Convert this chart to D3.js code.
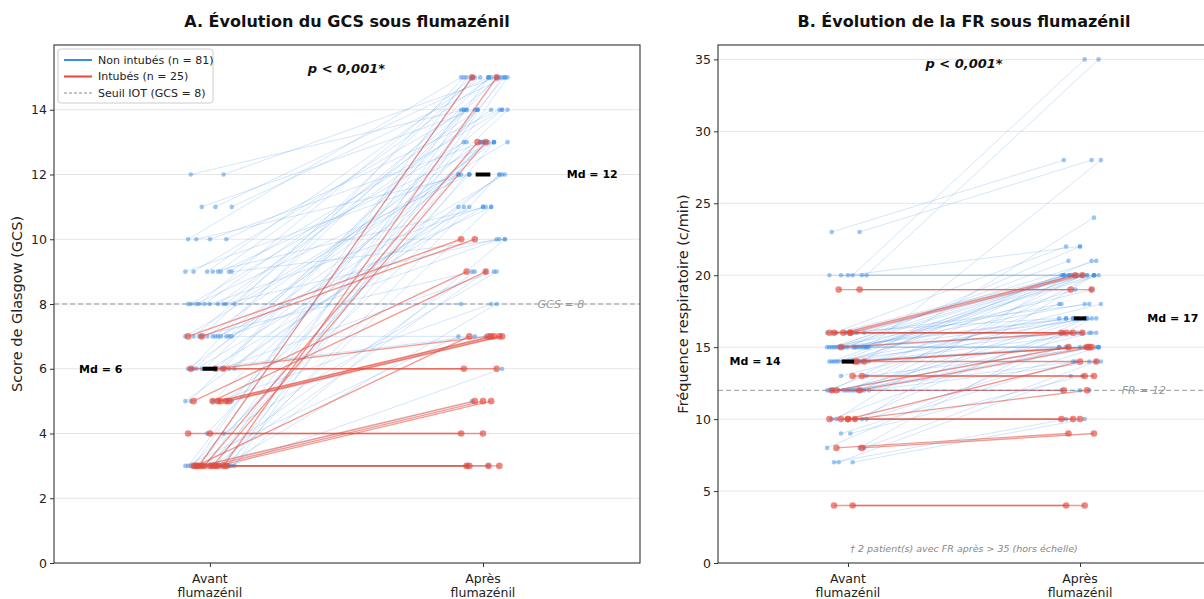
<!DOCTYPE html>
<html><head><meta charset="utf-8">
<script src="https://cdn.jsdelivr.net/npm/d3@7"></script>
<style>body{margin:0;background:#fff}svg{display:block;font-family:"DejaVu Sans",sans-serif}</style>
</head><body><svg id="c" width="1204" height="599"></svg>
<script>
// ---------- DATA ----------
const categories = ["Avant\nflumazénil", "Après\nflumazénil"];
const groupLabels = ["Non intubés (n = 81)", "Intubés (n = 25)"];
const thresholdLegend = "Seuil IOT (GCS = 8)";
const pValueA = "p < 0,001*";
const pValueB = "p < 0,001*";

// GCS pairs [avant, après] — non intubés
const gcsNonIntubes = [
 [12,15],[12,14],
 [11,15],[11,15],[11,14],
 [10,15],[10,14],[10,13],[10,12],
 [9,15],[9,15],[9,14],[9,14],[9,13],[9,12],[9,11],[9,10],
 [8,15],[8,15],[8,14],[8,14],[8,13],[8,13],[8,12],[8,11],[8,10],[8,8],
 [7,15],[7,15],[7,14],[7,14],[7,13],[7,13],[7,12],[7,12],[7,11],[7,10],[7,9],[7,7],
 [6,15],[6,15],[6,14],[6,14],[6,13],[6,13],[6,12],[6,12],[6,11],[6,11],[6,9],[6,7],
 [5,15],[5,14],[5,13],[5,12],[5,11],[5,8],
 [4,13],[4,9],
 [3,15],[3,15],[3,15],[3,15],[3,15],[3,14],[3,14],[3,13],[3,13],[3,12],[3,12],
 [3,11],[3,11],[3,10],[3,9],[3,9],[3,8],[3,7],[3,6],[3,5],[3,3],[3,3]
];
// GCS pairs — intubés
const gcsIntubes = [
 [3,15],[3,15],[3,13],[3,13],[5,9],[5,9],[7,10],[7,10],
 [5,7],[5,7],[5,7],[5,7],[6,7],[3,7],[6,6],[6,6],
 [3,5],[3,5],[3,5],[4,4],[4,4],[3,3],[3,3],[3,3],[3,3]
];
// FR pairs [avant, après] — non intubés (values > 35 drawn at 35)
const frNonIntubes = [
 [23,28],[23,28],
 [20,38],[20,40],[20,20],[20,20],[20,20],[20,22],
 [16,20],[16,20],[16,20],[16,21],[16,22],[16,18],[16,17],[16,16],
 [15,20],[15,20],[15,20],[15,20],[15,20],[15,20],[15,28],[15,21],[15,22],[15,19],
 [15,18],[15,18],[15,17],[15,17],[15,17],[15,16],[15,16],[15,15],[15,15],[15,15],
 [14,24],[14,20],[14,20],[14,20],[14,21],[14,19],[14,18],[14,17],[14,17],[14,16],[14,16],[14,15],[14,15],[14,14],
 [13,17],[13,15],
 [12,20],[12,20],[12,20],[12,18],[12,17],[12,17],[12,16],[12,16],[12,15],[12,15],[12,15],[12,14],[12,14],[12,12],[12,12],[12,12],
 [10,20],[10,20],[10,17],[10,16],[10,15],
 [9,14],[9,13],
 [8,17],[8,15],[8,14],
 [7,13],[7,10],[7,10]
];
// FR pairs — intubés
const frIntubes = [
 [19,19],[19,19],[16,20],[16,20],[16,16],[16,16],[16,16],[15,16],
 [14,15],[14,15],[14,14],[13,13],[13,13],[12,15],[12,15],[12,12],
 [10,14],[10,12],[10,10],[10,10],[10,10],[8,9],[8,9],[4,4],[4,4]
];
// horizontal jitter per patient
const jitterNI = [
 0.05,-0.07,0.02,0.08,-0.03,-0.08,0.06,0.00,-0.05,0.03,
 -0.01,0.07,-0.06,0.04,-0.09,0.01,0.08,-0.04,0.06,-0.02,
 0.03,-0.07,0.09,-0.05,0.00,0.05,-0.08,0.02,-0.03,0.07,
 -0.06,0.04,-0.01,0.08,-0.09,0.03,0.06,-0.04,0.01,-0.07,
 0.05,-0.02,0.09,-0.06,0.02,-0.08,0.07,0.00,-0.05,0.04,
 -0.03,0.08,-0.07,0.01,0.06,-0.09,0.03,-0.01,0.05,-0.04,
 0.07,-0.06,0.02,0.09,-0.02,-0.08,0.04,0.00,0.06,-0.05,
 0.03,-0.07,0.08,-0.03,0.01,0.05,-0.09,0.07,-0.04,0.02,
 -0.06];
const jitterI = [-0.04,0.05,-0.02,0.01,-0.06,0.01,-0.08,-0.03,0.03,0.04,
 0.07,0.06,0.02,-0.05,0.05,-0.07,0.00,0.03,-0.03,0.00,
 -0.08,-0.05,0.06,-0.06,0.02];

const yTicksA = [0,2,4,6,8,10,12,14];
const yTicksB = [0,5,10,15,20,25,30,35];

// ---------- STYLE ----------
const BLUE = "#3b8ee8", RED = "#e5483a";
const svg = d3.select("#c");

function drawPanel(cfg) {
  const x = d3.scaleLinear().domain(cfg.xdom).range([cfg.left, cfg.right]);
  const y = d3.scaleLinear().domain(cfg.ydom).range([cfg.bottom, cfg.top]);
  const g = svg.append("g");
  const cap = v => cfg.cap != null ? Math.min(v, cfg.cap) : v;

  // grid
  g.selectAll(".grid").data(cfg.yticks.filter(t => t > 0)).join("line")
    .attr("x1", cfg.left).attr("x2", cfg.right)
    .attr("y1", d => y(d)).attr("y2", d => y(d))
    .attr("stroke", "#e6e6e6").attr("stroke-width", 1);

  // threshold
  g.append("line").attr("x1", cfg.left).attr("x2", cfg.right)
    .attr("y1", y(cfg.thr)).attr("y2", y(cfg.thr))
    .attr("stroke", "#999").attr("stroke-width", 1).attr("stroke-dasharray", "5,3");

  const groups = [
    {data: cfg.ni, jit: jitterNI, color: BLUE, lo: 0.22, lw: 1, r: 2.3, po: 0.5},
    {data: cfg.it, jit: jitterI, color: RED, lo: 0.55, lw: 1.4, r: 3.3, po: 0.65}
  ];
  groups.forEach(gr => {
    const pts = gr.data.map((d, i) => ({a: d[0], b: cap(d[1]), j: gr.jit[i]}));
    g.append("g").selectAll("line").data(pts).join("line")
      .attr("x1", d => x(0 + d.j)).attr("x2", d => x(1 + d.j))
      .attr("y1", d => y(d.a)).attr("y2", d => y(d.b))
      .attr("stroke", gr.color).attr("stroke-opacity", gr.lo).attr("stroke-width", gr.lw);
    const dots = pts.flatMap(d => [{x: 0 + d.j, v: d.a}, {x: 1 + d.j, v: d.b}]);
    g.append("g").selectAll("circle").data(dots).join("circle")
      .attr("cx", d => x(d.x)).attr("cy", d => y(d.v)).attr("r", gr.r)
      .attr("fill", gr.color).attr("fill-opacity", gr.po);
  });

  // medians
  const all = cfg.ni.concat(cfg.it);
  const medA = d3.median(all, d => d[0]);
  const medB = d3.median(all, d => d[1]);
  [[0, medA], [1, medB]].forEach(([p, m]) => {
    g.append("line").attr("x1", x(p - 0.027)).attr("x2", x(p + 0.027))
      .attr("y1", y(m)).attr("y2", y(m)).attr("stroke", "#000").attr("stroke-width", 4);
  });
  g.append("text").attr("x", x(-0.4)).attr("y", y(medA)).attr("text-anchor", "middle")
    .attr("dy", "0.35em").attr("font-size", 11).attr("font-weight", "bold").text("Md = " + medA);
  g.append("text").attr("x", x(1.4)).attr("y", y(medB)).attr("text-anchor", "middle")
    .attr("dy", "0.35em").attr("font-size", 11).attr("font-weight", "bold").text("Md = " + medB);

  // threshold label
  g.append("text").attr("x", x(cfg.thrLabelX)).attr("y", y(cfg.thr)).attr("dy", "0.35em")
    .attr("font-size", 11).attr("font-style", "italic").attr("fill", "#999").text(cfg.thrLabel);

  // p value
  g.append("text").attr("x", x(0.5)).attr("y", cfg.pY).attr("text-anchor", "middle").attr("dy", "0.35em")
    .attr("font-size", 13).attr("font-weight", "bold").attr("font-style", "italic").attr("fill", "#111").text(cfg.p);

  // axes
  const ya = g.append("g").attr("transform", `translate(${cfg.left},0)`)
    .call(d3.axisLeft(y).tickValues(cfg.yticks).tickSize(4).tickPadding(3));
  const xa = g.append("g").attr("transform", `translate(0,${cfg.bottom})`)
    .call(d3.axisBottom(x).tickValues([0, 1]).tickSize(4).tickFormat(""));
  [ya, xa].forEach(a => { a.select(".domain").remove(); a.selectAll("line").attr("stroke", "#333");
    a.selectAll("text").attr("font-size", 12.5).attr("fill", "#222").attr("font-family", "DejaVu Sans"); });
  categories.forEach((c, i) => {
    const t = g.append("text").attr("x", x(i)).attr("y", cfg.bottom + 20).attr("text-anchor", "middle")
      .attr("font-size", 12.5).attr("fill", "#222");
    c.split("\n").forEach((s, k) => t.append("tspan").attr("x", x(i)).attr("dy", k ? "1.15em" : 0).text(s));
  });

  // frame
  g.append("rect").attr("x", cfg.left).attr("y", cfg.top).attr("width", cfg.right - cfg.left)
    .attr("height", cfg.bottom - cfg.top).attr("fill", "none").attr("stroke", "#333").attr("stroke-width", 1.1);

  // title and y label
  svg.append("text").attr("x", (cfg.left + cfg.right) / 2).attr("y", 27).attr("text-anchor", "middle")
    .attr("font-size", 16).attr("font-weight", "bold").attr("fill", "#111").text(cfg.title);
  svg.append("text").attr("transform", `translate(${cfg.ylabX},${(cfg.top + cfg.bottom) / 2}) rotate(-90)`)
    .attr("text-anchor", "middle").attr("font-size", 14.5).attr("fill", "#222").text(cfg.ylabel);

  return {x, y, g, all};
}

const A = drawPanel({left: 54, right: 640, top: 45, bottom: 563, xdom: [-0.571, 1.575], ydom: [0, 16],
  yticks: yTicksA, ni: gcsNonIntubes, it: gcsIntubes, thr: 8, thrLabel: "GCS = 8", thrLabelX: 1.2,
  pY: 68, p: pValueA, title: "A. Évolution du GCS sous flumazénil", ylabel: "Score de Glasgow (GCS)", ylabX: 22, cap: null});

const B = drawPanel({left: 718, right: 1210, top: 45, bottom: 563, xdom: [-0.56, 1.56], ydom: [0, 36],
  yticks: yTicksB, ni: frNonIntubes, it: frIntubes, thr: 12, thrLabel: "FR = 12", thrLabelX: 1.18,
  pY: 63, p: pValueB, title: "B. Évolution de la FR sous flumazénil", ylabel: "Fréquence respiratoire (c/min)", ylabX: 688, cap: 35});

// footnote panel B
const nOver = B.all.filter(d => d[1] > 35).length;
B.g.append("text").attr("x", B.x(0.5)).attr("y", 549).attr("text-anchor", "middle").attr("dy", "0.35em")
  .attr("font-size", 9.5).attr("font-style", "italic").attr("fill", "#888")
  .text(`† ${nOver} patient(s) avec FR après > 35 (hors échelle)`);

// legend panel A
const lg = svg.append("g").attr("transform", "translate(58,49)");
lg.append("rect").attr("width", 155).attr("height", 54).attr("rx", 3).attr("fill", "#fff")
  .attr("fill-opacity", 0.9).attr("stroke", "#ccc");
const legendItems = [
  {label: groupLabels[0], color: BLUE, dash: null, w: 2},
  {label: groupLabels[1], color: RED, dash: null, w: 2},
  {label: thresholdLegend, color: "#888", dash: "3,2", w: 1}
];
legendItems.forEach((it, i) => {
  const yy = 11 + i * 16.5;
  lg.append("line").attr("x1", 6).attr("x2", 34).attr("y1", yy).attr("y2", yy)
    .attr("stroke", it.color).attr("stroke-width", it.w).attr("stroke-dasharray", it.dash);
  lg.append("text").attr("x", 40).attr("y", yy).attr("dy", "0.35em").attr("font-size", 11)
    .attr("fill", "#222").text(it.label);
});
</script></body></html>
